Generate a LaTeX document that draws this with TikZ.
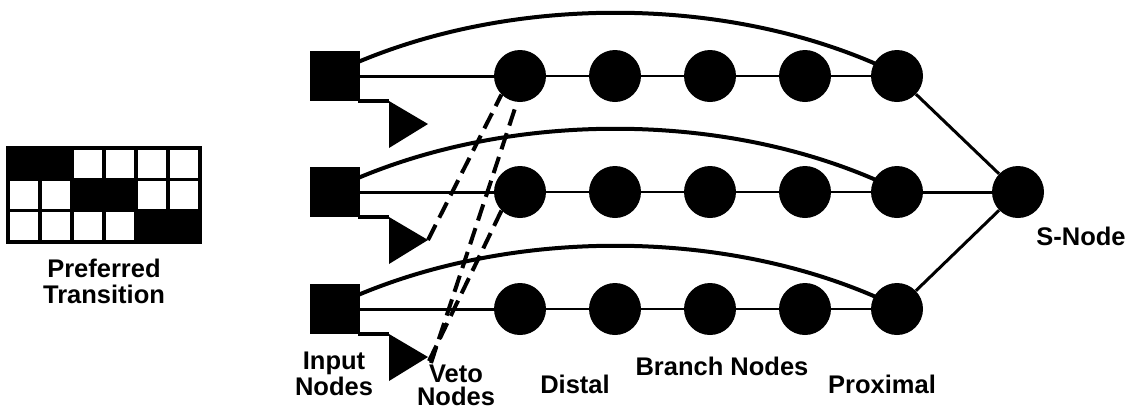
\documentclass[tikz,border=0pt]{standalone}
\usepackage{fontspec}
\setmainfont{Liberation Sans}
\begin{document}
\begin{tikzpicture}[x=1pt,y=-1pt,
  bnode/.style={circle,fill=black,minimum size=52pt,inner sep=0pt},
  inode/.style={rectangle,fill=black,minimum size=50pt,inner sep=0pt},
  link/.style={line width=3pt},
  arcline/.style={line width=4pt},
  vetoline/.style={line width=4pt,dash pattern=on 17pt off 8pt},
  lbl/.style={font=\fontsize{25.5}{26}\selectfont\bfseries,align=center,inner sep=0pt},
  cellw/.style={draw=black,line width=3.5pt,fill=white},
  cellb/.style={draw=black,line width=3.5pt,fill=black}]
\useasboundingbox (0,0) rectangle (1133,410);
% grid
\foreach \r/\b in {0/1,1/2,2/3}{
  \foreach \c in {1,...,6}{
    \pgfmathtruncatemacro{\bc}{(\c+1)/2}
    \ifnum\bc=\b
      \path[cellb] ({8+32*(\c-1)},{148+31.3*\r}) rectangle ({8+32*\c},{148+31.3*(\r+1)});
    \else
      \path[cellw] ({8+32*(\c-1)},{148+31.3*\r}) rectangle ({8+32*\c},{148+31.3*(\r+1)});
    \fi
  }
}
\node[lbl,anchor=base] (pt) at (104,303) {Preferred\\Transition};
% rows
\foreach \i/\y in {1/76,2/192,3/309}{
  \node[inode] (in\i) at (335,\y) {};
  \foreach \k/\x in {1/520,2/615,3/710,4/805,5/897}{
    \node[bnode] (b\i\k) at (\x,\y) {};
  }
  \draw[link] (in\i.east) -- (b\i1.west);
  \draw[link,line width=2.5pt] (b\i1) -- (b\i2) -- (b\i3) -- (b\i4) -- (b\i5);
  \coordinate (as\i) at (358,\y-14);
  \coordinate (ae\i) at (876,\y-12);
  \draw[arcline] (as\i) .. controls (515,\y-80) and (720,\y-80) .. (ae\i);
  % veto
  \coordinate (vl\i) at (358,\y+25);
  \coordinate (vt\i) at (389,\y+25);
  \coordinate (va\i) at (428,\y+48);
  \coordinate (vb\i) at (389,\y+72);
  \draw[line width=4pt] (vl\i) -- (vt\i);
  \fill (vt\i) -- (va\i) -- (vb\i) -- cycle;
}
\node[bnode] (s) at (1018,192) {};
\draw[link] (b15) -- (s);
\draw[link] (b25) -- (s);
\draw[link] (b35) -- (s);
% veto connections
\draw[vetoline] (va2) -- (b11.south west);
\draw[vetoline] ([xshift=3pt,yshift=-6pt]va3) -- ([xshift=-3pt]b11.south);
\draw[vetoline] ([xshift=1pt,yshift=-4pt]va3) -- (b21.south west);
% labels
\node[lbl,anchor=base] (lin) at (334,395) {Input\\Nodes};
\node[lbl,anchor=base,font=\fontsize{25.5}{23}\selectfont\bfseries] (lv) at (456,405) {Veto\\Nodes};
\node[lbl,anchor=base] (ld) at (575,393) {Distal};
\node[lbl,anchor=base] (lb) at (722,375) {Branch Nodes};
\node[lbl,anchor=base] (lp) at (882,393) {Proximal};
\node[lbl,anchor=base] (ls) at (1081,245) {S-Node};
\end{tikzpicture}
\end{document}
